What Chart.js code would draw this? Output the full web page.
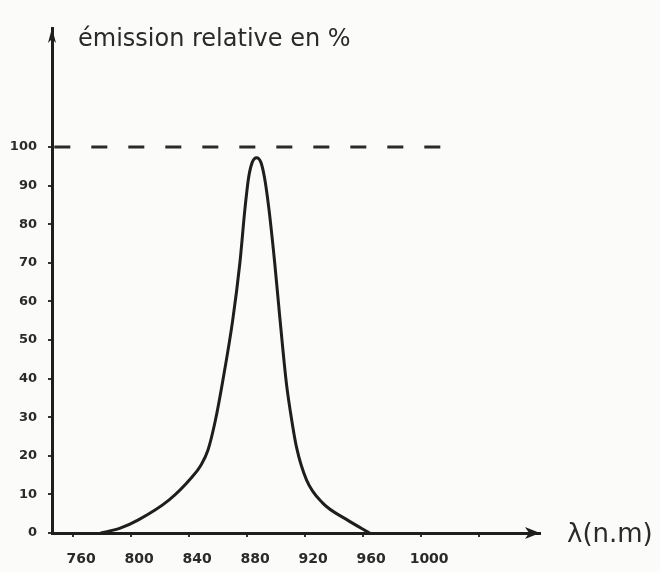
<!DOCTYPE html>
<html><head><meta charset="utf-8">
<script src="https://cdn.jsdelivr.net/npm/chart.js@4"></script>
<style>html,body{margin:0;padding:0;background:#fbfbf9;} #wrap{width:660px;height:572px;position:relative}</style>
</head><body><div id="wrap"><canvas id="c" width="660" height="572"></canvas></div>
<script>
// Data (wavelength in nm, relative emission in %)
const wavelengths = [779, 792, 805, 826, 842, 848, 853, 858, 863, 870, 875, 878.5, 881, 883.5, 886.5, 889.5, 892, 895, 899, 902.5, 907, 910, 914, 921, 932, 949, 964.5];
const emission    = [0, 1.2, 3.4, 8.5, 14.5, 17.5, 21.5, 29, 39, 55, 70, 84, 92, 96, 97.2, 96, 92, 84, 70, 56, 39, 31, 22.3, 13.7, 7.8, 3.4, 0];
const referenceLevel = 100;
const referenceSpan = [747, 1021];
const xTickValues = [760, 800, 840, 880, 920, 960, 1000, 1040];
const xTickLabels = ['760', '800', '840', '880', '920', '960', '1000', ''];
const yTickValues = [0, 10, 20, 30, 40, 50, 60, 70, 80, 90, 100];
const titleText = 'émission relative en %';
const xAxisText = 'λ(n.m)';

const ink = '#1e1e1e';

const decorations = {
  id: 'decorations',
  afterDraw(chart) {
    const {ctx, chartArea: {left, right, top, bottom}} = chart;
    ctx.save();
    ctx.fillStyle = ink;
    // x-axis arrow head
    ctx.beginPath();
    ctx.moveTo(right, bottom);
    ctx.lineTo(right - 15, bottom - 6);
    ctx.lineTo(right - 11, bottom);
    ctx.lineTo(right - 15, bottom + 6);
    ctx.closePath();
    ctx.fill();
    // y-axis arrow head
    ctx.beginPath();
    ctx.moveTo(left, top);
    ctx.lineTo(left - 4, top + 15);
    ctx.lineTo(left, top + 11);
    ctx.lineTo(left + 4, top + 15);
    ctx.closePath();
    ctx.fill();
    // texts
    ctx.fillStyle = '#2a2a2a';
    ctx.font = '24px "DejaVu Sans"';
    ctx.textAlign = 'left';
    ctx.textBaseline = 'alphabetic';
    ctx.fillText(titleText, left + 26, top + 18);
    ctx.font = '26px "DejaVu Sans"';
    ctx.textBaseline = 'middle';
    ctx.fillText(xAxisText, right + 27, bottom + 2);
    ctx.restore();
  }
};

new Chart(document.getElementById('c'), {
  type: 'line',
  data: {
    datasets: [
      {
        data: wavelengths.map((x, i) => ({x: x, y: emission[i]})),
        borderColor: ink,
        borderWidth: 3,
        pointRadius: 0,
        cubicInterpolationMode: 'monotone',
        fill: false
      },
      {
        data: referenceSpan.map(x => ({x: x, y: referenceLevel})),
        borderColor: '#2a2a2a',
        borderWidth: 3,
        borderDash: [16, 21],
        pointRadius: 0,
        fill: false
      }
    ]
  },
  options: {
    responsive: false,
    animation: false,
    devicePixelRatio: 1,
    layout: {padding: {left: 0, right: 120, top: 28, bottom: 0}},
    plugins: {legend: {display: false}, tooltip: {enabled: false}, title: {display: false}},
    scales: {
      x: {
        type: 'linear',
        min: 745.4,
        max: 1082,
        afterBuildTicks: s => { s.ticks = xTickValues.map(v => ({value: v})); },
        afterFit: s => { s.height = 39; },
        ticks: {
          callback: (v, i) => xTickLabels[i],
          autoSkip: false,
          maxRotation: 0,
          padding: 14,
          labelOffset: 8,
          color: '#2a2a2a',
          font: {family: '"DejaVu Sans"', size: 14, weight: 'bold'}
        },
        grid: {display: true, drawOnChartArea: false, tickLength: 4, color: '#333', lineWidth: 2},
        border: {display: true, color: ink, width: 3}
      },
      y: {
        type: 'linear',
        min: 0,
        max: 130.8,
        afterBuildTicks: s => { s.ticks = yTickValues.map(v => ({value: v})); },
        afterFit: s => { s.width = 52; },
        ticks: {
          padding: 11,
          color: '#2a2a2a',
          font: {family: '"DejaVu Sans"', size: 13, weight: 'bold'}
        },
        grid: {display: true, drawOnChartArea: false, tickLength: 4, color: '#333', lineWidth: 2},
        border: {display: true, color: ink, width: 3}
      }
    }
  },
  plugins: [decorations]
});
</script>
</body></html>
